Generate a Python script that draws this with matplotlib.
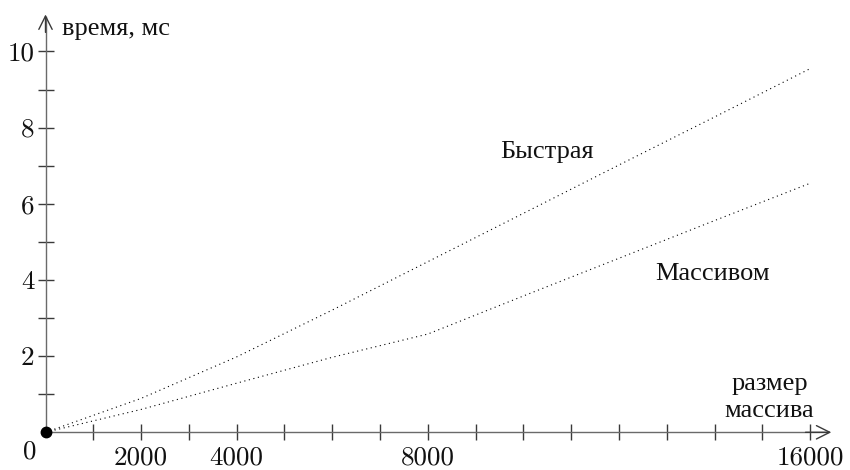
import numpy as np
import matplotlib

matplotlib.use("Agg")
import matplotlib.pyplot as plt

# === Data ===
sizes = [0, 2000, 4000, 6000, 8000, 10000, 12000, 14000, 16000]
fast_ms = [0, 0.89, 1.98, 3.21, 4.48, 5.75, 7.02, 8.28, 9.55]
array_ms = [0, 0.60, 1.29, 1.97, 2.58, 3.58, 4.57, 5.56, 6.54]

x_ticks = list(range(1000, 17000, 1000))
x_labels = {2000: "2000", 4000: "4000", 8000: "8000", 16000: "16000"}
y_ticks = list(range(1, 11))
y_labels = {2: "2", 4: "4", 6: "6", 8: "8", 10: "10"}

# === Style ===
NUM_FONT = "cmr10"
TXT_FONT = ["Liberation Serif", "DejaVu Serif"]
AXIS_COLOR = "#6a6a6a"
TICK_COLOR = "#3a3a3a"
TXT_SIZE = 19
NUM_SIZE = 19.5

fig = plt.figure(figsize=(8.5, 4.7), dpi=100)
ax = fig.add_axes([0, 0, 1, 1])
ax.set_xlim(-952, 16831)
ax.set_ylim(-0.99, 11.35)
ax.set_facecolor("none")

for side in ("top", "right"):
    ax.spines[side].set_visible(False)
ax.spines["left"].set_position(("data", 0))
ax.spines["bottom"].set_position(("data", 0))
ax.spines["left"].set_bounds(0, 10.9)
ax.spines["bottom"].set_bounds(0, 16380)
for side in ("left", "bottom"):
    ax.spines[side].set_color(AXIS_COLOR)
    ax.spines[side].set_linewidth(1.0)

# arrow heads
ax.annotate("", xy=(0, 10.97), xytext=(0, 10.5),
            arrowprops=dict(arrowstyle="->", color=TICK_COLOR, lw=1.0,
                            mutation_scale=24, shrinkA=0, shrinkB=0))
ax.annotate("", xy=(16440, 0), xytext=(15900, 0),
            arrowprops=dict(arrowstyle="->", color=TICK_COLOR, lw=1.0,
                            mutation_scale=24, shrinkA=0, shrinkB=0))

ax.set_xticks(x_ticks)
ax.set_xticklabels([x_labels.get(t, "") for t in x_ticks])
ax.set_yticks(y_ticks)
ax.set_yticklabels([y_labels.get(t, "") for t in y_ticks])
ax.tick_params(axis="both", direction="inout", length=12, width=1.0,
               color=TICK_COLOR, labelsize=NUM_SIZE, labelcolor="#111111")
ax.tick_params(axis="x", pad=4)
ax.tick_params(axis="y", pad=2)
for lab in ax.get_xticklabels() + ax.get_yticklabels():
    lab.set_fontfamily(NUM_FONT)

# curves
ax.plot(sizes, fast_ms, color="black", lw=0.8, linestyle=(0, (1, 3.2)))
ax.plot(sizes, array_ms, color="black", lw=0.8, linestyle=(0, (1, 3.2)))
ax.plot([0], [0], "o", color="black", markersize=7.5, zorder=5, clip_on=False)

# texts
ax.text(-330, -0.52, "0", fontsize=NUM_SIZE, family=NUM_FONT, ha="center", va="center", color="#111111")
ax.text(350, 10.6, "время, мс", fontsize=TXT_SIZE, family=TXT_FONT, ha="left", va="center", color="#111111")
ax.text(10500, 7.35, "Быстрая", fontsize=TXT_SIZE, family=TXT_FONT, ha="center", va="center", color="#111111")
ax.text(13960, 4.15, "Массивом", fontsize=TXT_SIZE, family=TXT_FONT, ha="center", va="center", color="#111111")
ax.text(15150, 1.27, "размер", fontsize=TXT_SIZE, family=TXT_FONT, ha="center", va="center", color="#111111")
ax.text(15150, 0.57, "массива", fontsize=TXT_SIZE, family=TXT_FONT, ha="center", va="center", color="#111111")

fig.savefig("out.png", dpi=100)
